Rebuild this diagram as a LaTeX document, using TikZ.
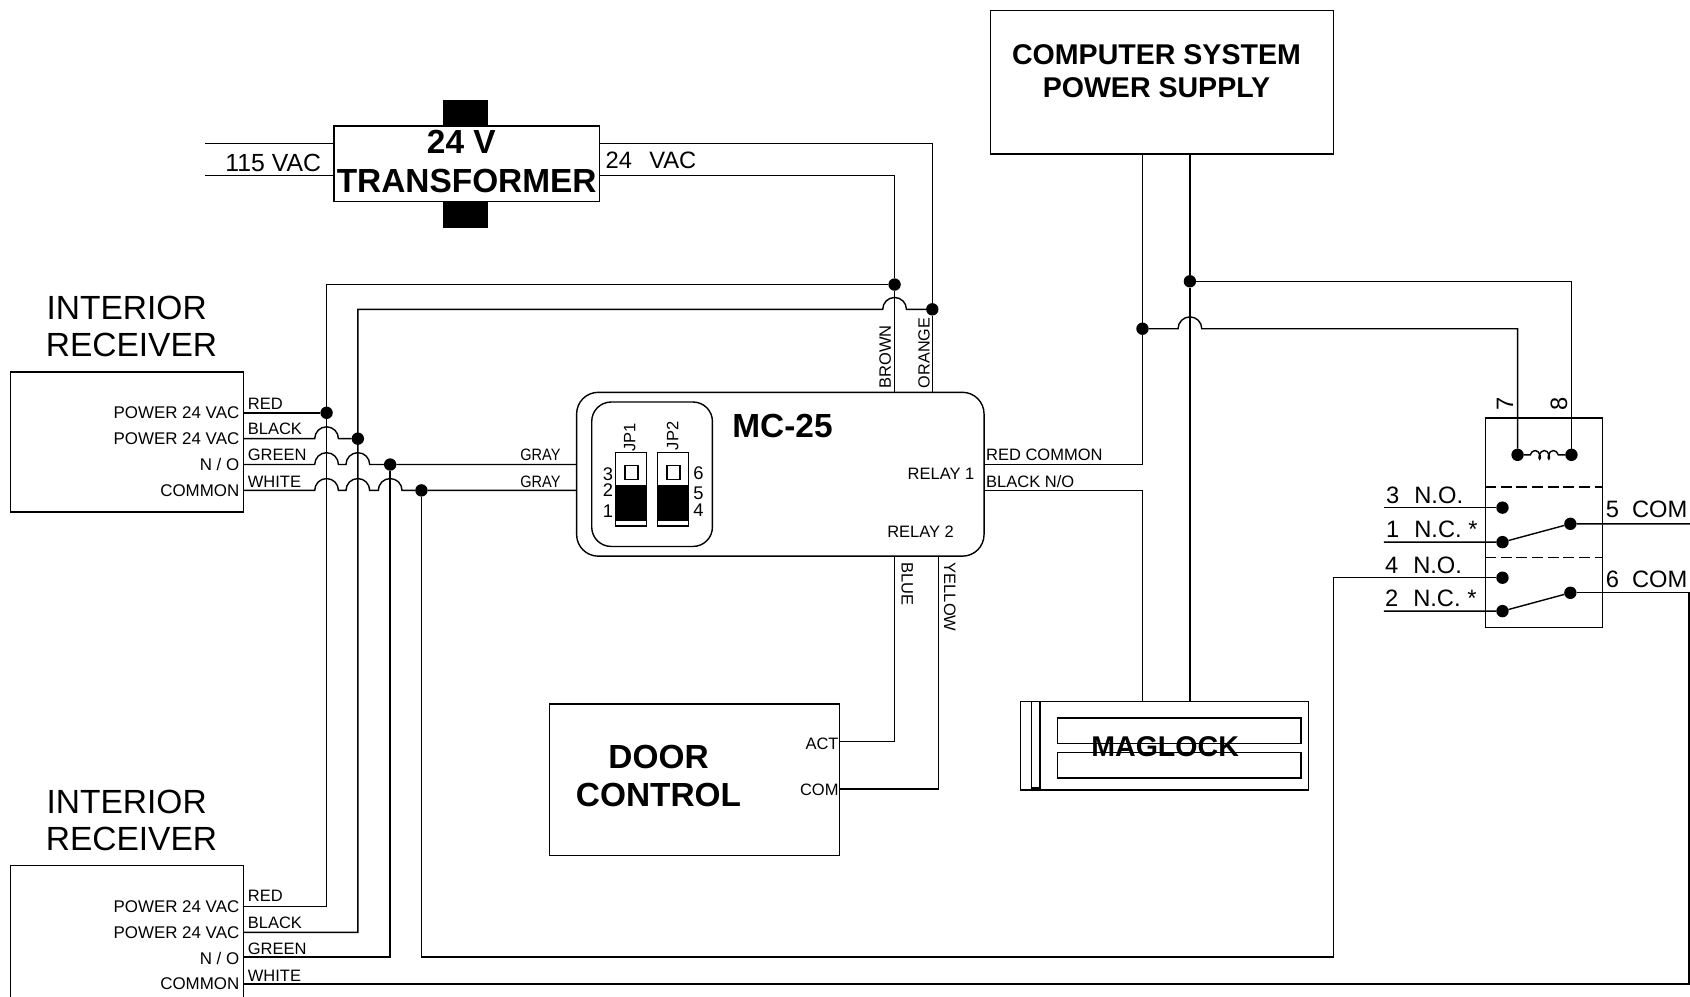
\documentclass[tikz,border=0pt]{standalone}
\usepackage{fontspec}
\setmainfont{Liberation Sans}
\usetikzlibrary{decorations.pathmorphing}
\def\hop#1#2{-- (#1-11,#2) arc[start angle=180,end angle=0,radius=11pt]}
\tikzset{
  every path/.style={line width=1.3pt},
  boxn/.style={draw,rectangle,inner sep=0pt,outer sep=0pt,line width=1.3pt},
  blk/.style={draw,fill=black,rectangle,inner sep=0pt,outer sep=0pt},
  dot/.style={circle,fill=black,draw=none,minimum size=11.5pt,inner sep=0pt,outer sep=0pt},
  ts/.style={inner sep=0pt,outer sep=0pt,font=\fontsize{15.3}{15.3}\selectfont,text height=11pt,text depth=0pt},
  tp/.style={ts,font=\fontsize{15.7}{15.7}\selectfont},
  td/.style={ts,font=\fontsize{17}{17}\selectfont,text height=12pt},
  tm/.style={inner sep=0pt,outer sep=0pt,font=\fontsize{22}{22}\selectfont,text height=15.8pt,text depth=0pt},
  tl/.style={inner sep=0pt,outer sep=0pt,font=\fontsize{31.1}{31.1}\selectfont,text height=22pt,text depth=0pt},
  tb/.style={inner sep=0pt,outer sep=0pt,align=center,font=\fontsize{31}{35}\selectfont\bfseries},
  tc/.style={inner sep=0pt,outer sep=0pt,align=center,font=\fontsize{26.5}{30}\selectfont\bfseries},
}
\begin{document}
\begin{tikzpicture}[x=1pt,y=-1pt]
\useasboundingbox (0,0) rectangle (1568,925);
% boxes
\node[boxn,minimum width=318pt,minimum height=133pt] (comp) at (1078,76.5) {};
\node[tc] (compt) at (1073,66) {COMPUTER SYSTEM\\POWER SUPPLY};
\node[blk,minimum width=40pt,minimum height=24pt] (coreA) at (432,105) {};
\node[blk,minimum width=40pt,minimum height=24pt] (coreB) at (432,199) {};
\node[boxn,fill=white,minimum width=246pt,minimum height=70pt] (tr) at (433,152) {};
\node[tb,font=\fontsize{31}{36}\selectfont\bfseries] (trt) at (433,149.5) {\makebox[0pt]{\hspace*{-10pt}24 V}\\TRANSFORMER};
\node[boxn,minimum width=216pt,minimum height=130pt] (rcvA) at (118,410) {};
\node[tl] (rcvAa) at (117.5,285.5) {INTERIOR};
\node[tl] (rcvAb) at (122,320) {RECEIVER};
\node[tl] (rcvBa) at (117.5,743.5) {INTERIOR};
\node[tl] (rcvBb) at (122,778) {RECEIVER};
\coordinate (rcvBtl) at (10,803);
\coordinate (rcvBtr) at (226,803);
\coordinate (rcvBbl) at (10,925);
\coordinate (rcvBbr) at (226,925);
\draw (rcvBbl) -- (rcvBtl) -- (rcvBtr) -- (rcvBbr);
\node[boxn,rounded corners=20pt,minimum width=378pt,minimum height=152pt] (mc) at (724,440) {};
\node[boxn,rounded corners=18pt,minimum width=112pt,minimum height=134pt] (mci) at (605,440) {};
\node[tb,font=\fontsize{31}{31}\selectfont\bfseries] (mct) at (726,395) {MC-25};
\node[boxn,minimum width=269pt,minimum height=141pt] (door) at (644.5,723.5) {};
\node[tb] (doort) at (611,720) {DOOR\\CONTROL};
\node[boxn,minimum width=267pt,minimum height=82pt] (mag) at (1080.5,692) {};
\node[boxn,minimum width=8pt,minimum height=80pt] (magS) at (961,691) {};
\node[boxn,minimum width=226pt,minimum height=24pt] (magA) at (1094,678) {};
\node[boxn,minimum width=226pt,minimum height=24pt] (magB) at (1094,710) {};
\node[tc,font=\fontsize{26.5}{26.5}\selectfont\bfseries] (magt) at (1081,693) {MAGLOCK};
\node[boxn,minimum width=109pt,minimum height=194pt] (relay) at (1432.5,485) {};
% jumpers
\foreach \n/\x in {A/585.5,B/624.5}{
  \node[boxn,minimum width=29pt,minimum height=68pt] (jp\n) at (\x,454) {};
  \node[blk,minimum width=29pt,minimum height=32pt] (jpk\n) at (\x,467) {};
  \node[boxn,minimum width=12pt,minimum height=13pt] (jps\n) at (\x+.5,438.5) {};
}
\node[ts,rotate=90] (jpl1) at (584,406) {JP1};
\node[ts,rotate=90] (jpl2) at (624,404.5) {JP2};
\node[td] (n3) at (564,440) {3};
\node[td] (n2) at (564,455) {2};
\node[td] (n1) at (564,474) {1};
\node[td] (n6) at (648,439) {6};
\node[td] (n5) at (648,457) {5};
\node[td] (n4) at (648,473) {4};
% junctions
\node[dot] (jr) at (303,383) {};
\node[dot] (jb) at (332,407) {};
\node[dot] (jg) at (362,431) {};
\node[dot] (jw) at (391,455) {};
\node[dot] (jt) at (830,264) {};
\node[dot] (ju) at (865,287) {};
\node[dot] (jc) at (1060,305) {};
\node[dot] (jd) at (1104,261) {};
\node[dot] (r7) at (1408,422) {};
\node[dot] (r8) at (1458,422) {};
\node[dot] (no1) at (1394,471) {};
\node[dot] (nc1) at (1394,503) {};
\node[dot] (co1) at (1457,486) {};
\node[dot] (no2) at (1394,536) {};
\node[dot] (nc2) at (1394,567) {};
\node[dot] (co2) at (1457,550) {};
% free ends and corners
\coordinate (pr) at (303,841);
\coordinate (pb) at (332,865);
\coordinate (pg) at (362,888);
\coordinate (pw) at (391,888);
\coordinate (pq) at (1237,888);
\coordinate (pv) at (10,913);
\coordinate (pe) at (1567,913);
\coordinate (acA) at (190,133);
\coordinate (acB) at (190,163);
\coordinate (ouA) at (865,133);
\coordinate (ouB) at (830,163);
\coordinate (rlA) at (1060,431);
\coordinate (rlB) at (1060,455);
\coordinate (actp) at (830,688);
\coordinate (comp2) at (871,732);
\coordinate (e1) at (1568,486);
\coordinate (f1) at (1284,471);
\coordinate (f2) at (1284,503);
\coordinate (f3) at (1284,567);
\coordinate (ds1a) at (1378,452);
\coordinate (ds1b) at (1487,452);
\coordinate (ds2a) at (1378,517);
\coordinate (ds2b) at (1487,517);
% wires at receiver A
\draw (rcvA.east |- jr) -- (jr);
\draw (rcvA.east |- jb) \hop{303}{407} -- (jb);
\draw (rcvA.east |- jg) \hop{303}{431} \hop{332}{431} -- (jg) -- (mc.west |- jg);
\draw (rcvA.east |- jw) \hop{303}{455} \hop{332}{455} \hop{362}{455} -- (jw) -- (mc.west |- jw);
% wires at receiver B
\draw (rcvBtr |- pr) -- (pr) -- (pr |- jt) -- (jt);
\draw (rcvBtr |- pb) -- (pb) -- (pb |- ju) \hop{830}{287} -- (ju);
\draw (rcvBtr |- pg) -- (pg) -- (jg);
\draw (jw) -- (pw) -- (pq) -- (pq |- no2) -- (no2);
\draw (rcvBtr |- pv) -- (pe) -- (pe |- co2) -- (co2);
% transformer
\draw (acA) -- (tr.west |- acA);
\draw (acB) -- (tr.west |- acB);
\draw (tr.east |- ouA) -- (ouA) -- (ju) -- (ju |- mc.north);
\draw (tr.east |- ouB) -- (ouB) -- (jt) -- (jt |- mc.north);
% power supply
\draw (jc |- comp.south) -- (jc) -- (rlA) -- (mc.east |- rlA);
\draw (mc.east |- rlB) -- (rlB) -- (rlB |- mag.north);
\draw (jd |- comp.south) -- (jd) -- (jd |- mag.north);
\draw (jc) \hop{1104}{305} -- (r7 |- jc) -- (r7);
\draw (jd) -- (r8 |- jd) -- (r8);
% door control
\draw (actp |- mc.south) -- (actp) -- (door.east |- actp);
\draw (comp2 |- mc.south) -- (comp2) -- (door.east |- comp2);
% relay
\draw[decorate,decoration={coil,aspect=0.6,amplitude=4pt,segment length=8.5pt,pre length=6pt,post length=6pt}] (r7) -- (r8);
\draw[dash pattern=on 10pt off 4.5pt] (ds1a) -- (ds1b);
\draw[dash pattern=on 10pt off 4.5pt] (ds2a) -- (ds2b);
\draw (f1) -- (no1);
\draw (f2) -- (nc1) -- (co1) -- (e1);
\draw (f3) -- (nc2) -- (co2);
% texts
\node[tm,font=\fontsize{23}{23}\selectfont] (t115) at (253.5,151) {115 VAC};
\node[tm,anchor=west] (t24) at (562,148) {24\hspace{16pt}VAC};
\foreach \i/\t/\y in {a/RED/374,b/BLACK/398,c/GREEN/422,d/WHITE/447,e/RED/831,f/BLACK/856,g/GREEN/880,h/WHITE/905}{
  \node[ts,anchor=west] (w\i) at (230,\y) {\t};
}
\foreach \i/\t/\y in {a/{POWER 24 VAC}/383,b/{POWER 24 VAC}/407,c/{N {/} O}/431,d/COMMON/455,e/{POWER 24 VAC}/841,f/{POWER 24 VAC}/865,g/{N {/} O}/889,h/COMMON/913}{
  \node[tp,anchor=east] (p\i) at (222,\y) {\t};
}
\node[ts,anchor=east] (gy1) at (520,422) {\scalebox{0.88}[1]{GRAY}};
\node[ts,anchor=east] (gy2) at (520,447) {\scalebox{0.88}[1]{GRAY}};
\node[ts,anchor=east] (rl1) at (904,439) {RELAY 1};
\node[ts,anchor=east] (rl2) at (885,493) {RELAY 2};
\node[ts,anchor=west] (rc) at (915,422) {RED COMMON};
\node[ts,anchor=west] (bn) at (915,447) {BLACK N/O};
\node[ts,rotate=90] (tbr) at (821,331) {BROWN};
\node[ts,font=\fontsize{15}{15}\selectfont,rotate=90] (tor) at (857,327.5) {ORANGE};
\node[ts,rotate=-90] (tbl) at (842,542) {BLUE};
\node[ts,rotate=-90] (tye) at (881.5,554) {YELLOW};
\node[ts,anchor=east] (tact) at (778,690) {ACT};
\node[ts,anchor=east] (tcom) at (778,733) {COM};
\node[tm,rotate=90] (t7) at (1396,375) {7};
\node[tm,rotate=90] (t8) at (1446,375) {8};
\node[tm,anchor=west] (l3) at (1286,459) {3\hspace{14pt}N.O.};
\node[tm,anchor=west] (l1) at (1286,491) {1\hspace{14pt}N.C. *};
\node[tm,anchor=west] (l4) at (1285,524) {4\hspace{14pt}N.O.};
\node[tm,anchor=west] (l2) at (1285,555) {2\hspace{14pt}N.C. *};
\node[tm,anchor=west] (l5) at (1490,472) {5\hspace{12pt}COM};
\node[tm,anchor=west] (l6) at (1490,537) {6\hspace{12pt}COM};
\end{tikzpicture}
\end{document}
